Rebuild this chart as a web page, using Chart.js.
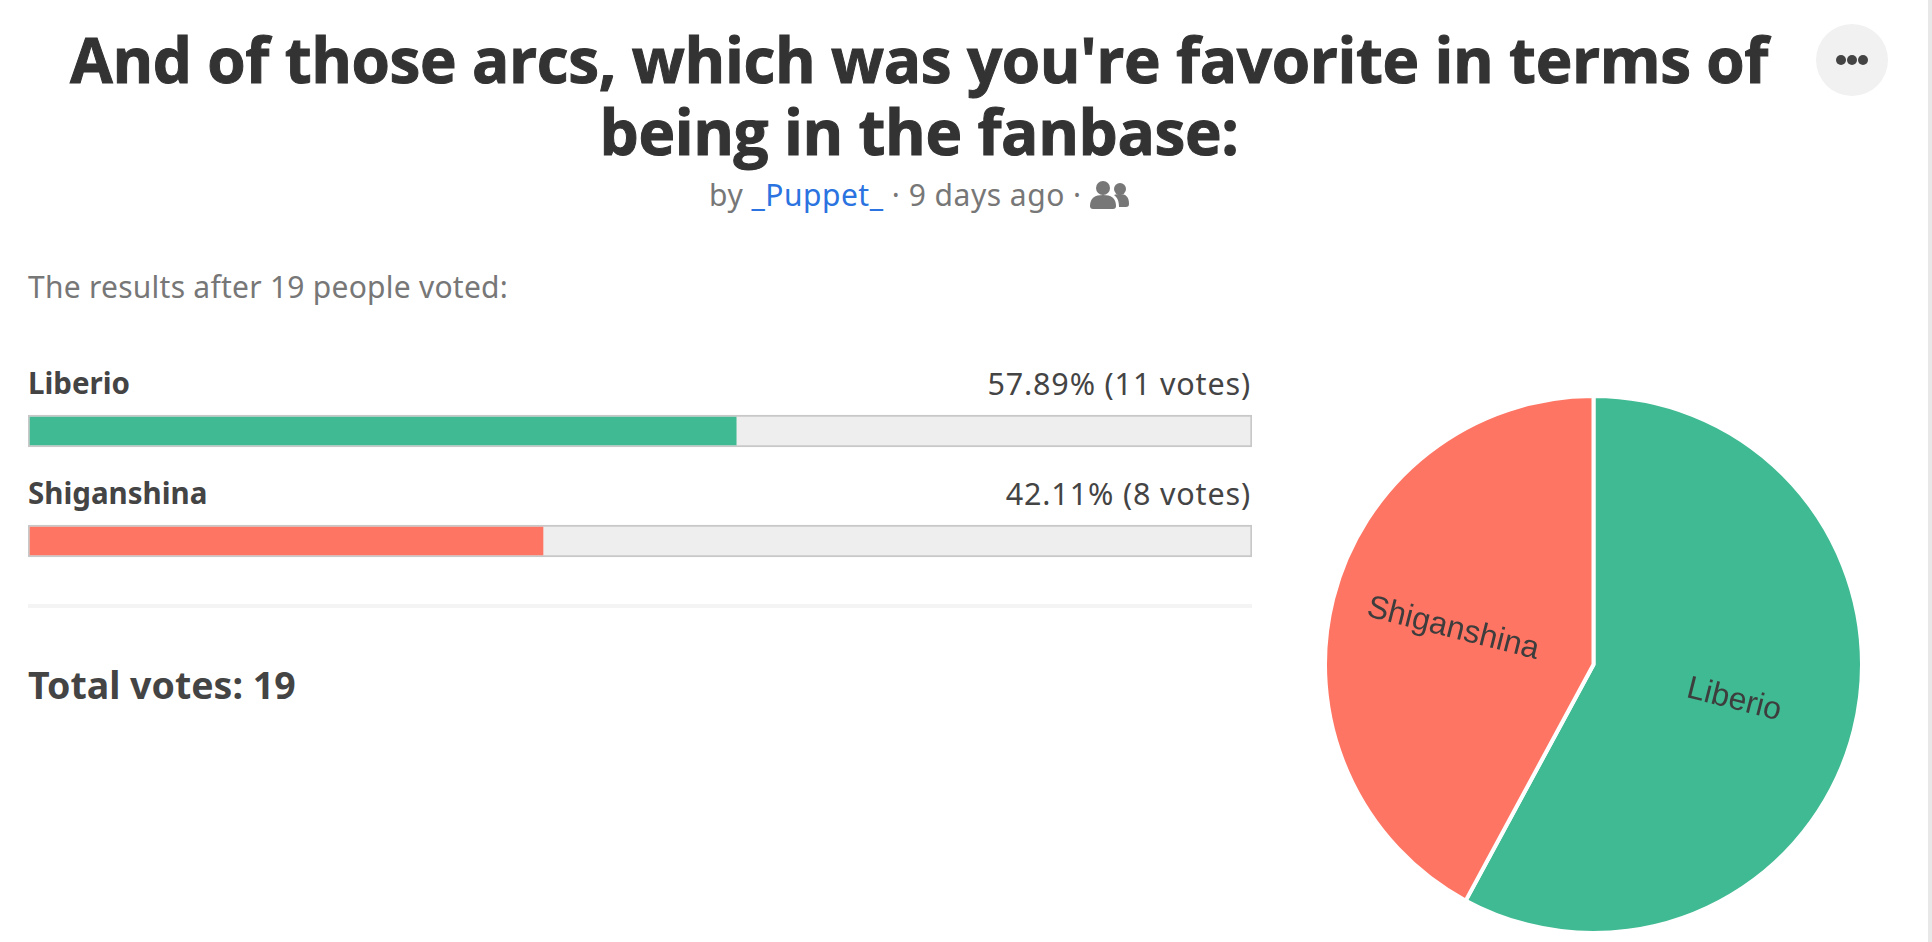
<!DOCTYPE html>
<html>
<head>
<meta charset="utf-8">
<title>Poll results</title>
<script src="https://cdn.jsdelivr.net/npm/chart.js@4"></script>
<style>
    html, body { margin: 0; padding: 0; background: #fff; overflow: hidden; }
    body { width: 1932px; height: 942px; position: relative; font-family: "Noto Sans", Lato, sans-serif; color: #444; }
    .abs { position: absolute; white-space: nowrap; }
    #title { margin: 0; left: 0; width: 1838px; top: 24px; text-align: center; font: 700 62px/71.5px "Open Sans", sans-serif; letter-spacing: -0.38px; -webkit-text-stroke: 1px #333; color: #333; }
    #byline { left: 0; width: 1838px; top: 175px; text-align: center; font-size: 30px; letter-spacing: 0.5px; line-height: 40px; color: #777; }
    #byline a { color: #2a73e0; text-decoration: none; }
    #byline svg { vertical-align: -3px; }
    #intro { left: 28px; top: 268px; font-size: 30px; letter-spacing: 0.25px; line-height: 38px; color: #777; }
    .name { left: 28px; font-size: 29.5px; line-height: 38px; font-weight: 700; }
    .result { right: 681px; font-size: 30.5px; letter-spacing: 0.85px; line-height: 38px; }
    #divider { left: 28px; top: 604px; width: 1224px; height: 4px; background: #f4f4f4; }
    #total { left: 28px; top: 662px; font-size: 37.5px; line-height: 46px; font-weight: 700; }
    #menu { left: 1816px; top: 24px; width: 72px; height: 72px; border-radius: 50%; background: #f1f1f1; }
    #menu i { position: absolute; top: 31px; width: 10px; height: 10px; border-radius: 50%; background: #444; }
    #scrollbar { left: 1928px; top: 0; width: 4px; height: 942px; background: #e8e8e8; }
    #bars { position: absolute; left: 28px; top: 376px; }
    #pie { position: absolute; left: 1323px; top: 394px; }
</style>
</head>
<body>
<script>
const categories = ['Liberio', 'Shiganshina'];
const votes = [11, 8];
const percents = [57.89, 42.11];
const trackValues = [100, 100];
const sliceColors = ['#40ba92', '#ff7564'];
</script>

<h1 class="abs" id="title">And of those arcs, which was you're favorite in terms of<br>being in the fanbase:</h1>
<div class="abs" id="byline">by <a href="#">_Puppet_</a> · 9 days ago · <svg width="39" height="28" viewBox="0 0 39 28" fill="#777"><circle cx="13" cy="7" r="7"/><path d="M0 25c0-8 5-11 13-11s13 3 13 11c0 2-1 3-3 3H3c-2 0-3-1-3-3z"/><circle cx="30" cy="8" r="6"/><path d="M24 14c2-1 4-1 6-1 6 0 9 3 9 10 0 2-1 3-3 3h-7c0-5-1-9-5-12z"/></svg></div>
<div class="abs" id="intro">The results after 19 people voted:</div>

<div class="abs name" style="top:364px">Liberio</div>
<div class="abs result" style="top:364px">57.89% (11 votes)</div>
<div class="abs name" style="top:474px">Shiganshina</div>
<div class="abs result" style="top:474px">42.11% (8 votes)</div>
<canvas id="bars" width="1224" height="220"></canvas>
<div class="abs" id="divider"></div>
<div class="abs" id="total">Total votes: 19</div>

<canvas id="pie" width="541" height="541"></canvas>

<div class="abs" id="menu"><i style="left:20px"></i><i style="left:31px"></i><i style="left:42px"></i></div>
<div class="abs" id="scrollbar"></div>

<script>
document.addEventListener('DOMContentLoaded', function () {
    // result bars: coloured fill on top of a grey track
    new Chart(document.getElementById('bars'), {
        type: 'bar',
        data: {
            labels: categories,
            datasets: [
                {
                    data: percents,
                    backgroundColor: sliceColors,
                    borderColor: 'rgba(0,0,0,0)',
                    borderWidth: { top: 2, bottom: 2, left: 2, right: 0 },
                    borderSkipped: false,
                    barThickness: 32
                },
                {
                    data: trackValues,
                    backgroundColor: '#eeeeee',
                    borderColor: '#c8c8c8',
                    borderWidth: 2,
                    borderSkipped: false,
                    barThickness: 32
                }
            ]
        },
        options: {
            indexAxis: 'y',
            responsive: false,
            animation: false,
            layout: { padding: 0 },
            plugins: { legend: { display: false }, tooltip: { enabled: false } },
            datasets: { bar: { grouped: false } },
            scales: {
                x: { display: false, min: 0, max: 100 },
                y: { display: false }
            }
        }
    });

    // labels sit on each slice, turned to follow its radius
    const sliceLabels = {
        id: 'sliceLabels',
        afterDatasetsDraw(chart) {
            const c = chart.ctx;
            chart.getDatasetMeta(0).data.forEach(function (arc, i) {
                const mid = (arc.startAngle + arc.endAngle) / 2;
                const dist = arc.outerRadius * 0.54;
                let turn = mid;
                if (Math.cos(mid) < 0) turn += Math.PI;
                c.save();
                c.translate(arc.x + Math.cos(mid) * dist, arc.y + Math.sin(mid) * dist);
                c.rotate(turn);
                c.font = '32px "Liberation Sans", Arial, sans-serif';
                c.fillStyle = '#3d3d3d';
                c.textAlign = 'center';
                c.textBaseline = 'middle';
                c.fillText(categories[i], 0, 0);
                c.restore();
            });
        }
    };

    new Chart(document.getElementById('pie'), {
        type: 'pie',
        data: {
            labels: categories,
            datasets: [{
                data: votes,
                backgroundColor: sliceColors,
                borderColor: '#ffffff',
                borderWidth: 4
            }]
        },
        options: {
            responsive: false,
            animation: false,
            layout: { padding: 0 },
            plugins: { legend: { display: false }, tooltip: { enabled: false } }
        },
        plugins: [sliceLabels]
    });
});
</script>
</body>
</html>
